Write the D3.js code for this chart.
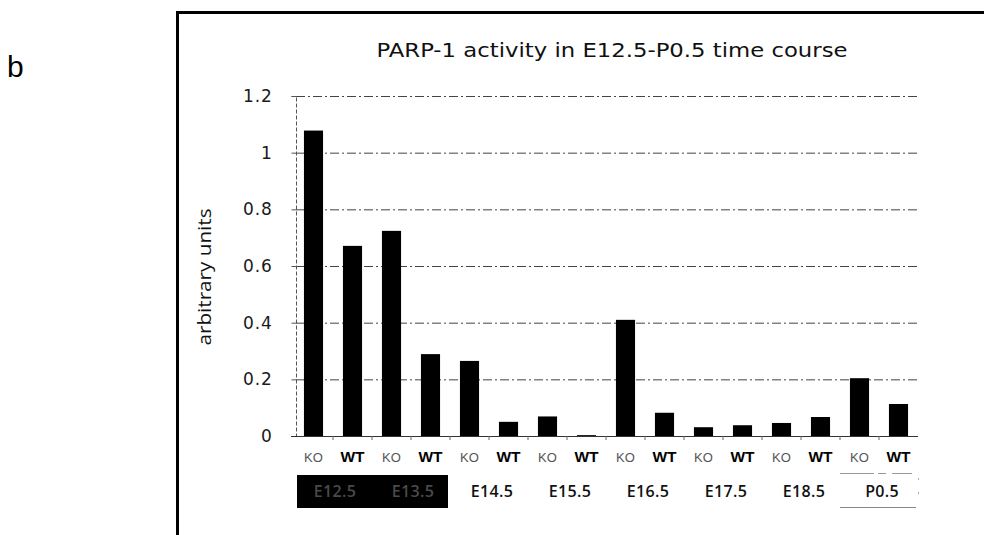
<!DOCTYPE html>
<html>
<head>
<meta charset="utf-8">
<script src="https://cdn.jsdelivr.net/npm/d3@7"></script>
<style>
  html, body { margin: 0; padding: 0; background: #fff; }
  svg { display: block; }
</style>
</head>
<body>
<svg id="chart" width="984" height="535"></svg>
<script>
// ---- data ----
const stages = ["E12.5", "E13.5", "E14.5", "E15.5", "E16.5", "E17.5", "E18.5", "P0.5"];
const genotypes = ["KO", "WT"];
const koValues = [1.078, 0.724, 0.265, 0.069, 0.410, 0.031, 0.046, 0.204];
const wtValues = [0.671, 0.289, 0.050, 0.003, 0.082, 0.038, 0.067, 0.113];
const yTicks = [0, 0.2, 0.4, 0.6, 0.8, 1, 1.2];
const yTickLabels = ["0", "0.2", "0.4", "0.6", "0.8", "1", "1.2"];
const chartTitle = "PARP-1 activity in E12.5-P0.5 time course";
const yTitle = "arbitrary units";
const panelLabel = "b";

// ---- build ----
const bars = [];
stages.forEach((s, i) => {
  bars.push({ stage: s, geno: "KO", key: s + "-KO", value: koValues[i] });
  bars.push({ stage: s, geno: "WT", key: s + "-WT", value: wtValues[i] });
});

const svg = d3.select("#chart");
const W = 984, H = 535;
const plot = { left: 294, right: 918, top: 96, bottom: 436 };
const axisX = 296;

svg.append("rect").attr("width", W).attr("height", H).attr("fill", "#fff");

// frame
const frame = svg.append("g");
frame.append("line").attr("x1", 177.5).attr("x2", 177.5).attr("y1", 11).attr("y2", H)
  .attr("stroke", "#000").attr("stroke-width", 3);
frame.append("line").attr("x1", 176).attr("x2", W).attr("y1", 12.5).attr("y2", 12.5)
  .attr("stroke", "#000").attr("stroke-width", 3);

// panel label
svg.append("text").attr("x", 7).attr("y", 77)
  .attr("font-family", "Liberation Sans, Arial, sans-serif").attr("font-size", 30)
  .attr("fill", "#000").text(panelLabel);

const y = d3.scaleLinear().domain([0, 1.2]).range([plot.bottom, plot.top]);
const x = d3.scaleBand().domain(bars.map(d => d.key)).range([plot.left, plot.right])
  .paddingInner(0.51).paddingOuter(0.255);
const xStage = d3.scaleBand().domain(stages).range([plot.left, plot.right]);

// gridlines
svg.append("g").selectAll("line").data(yTicks.filter(t => t > 0)).join("line")
  .attr("x1", axisX).attr("x2", plot.right)
  .attr("y1", d => y(d) + 0.5).attr("y2", d => y(d) + 0.5)
  .attr("stroke", "#444").attr("stroke-width", 1)
  .attr("stroke-dasharray", "9,3,2,3");

// y axis
const yAxis = d3.axisLeft(y).tickValues(yTicks).tickSize(5).tickPadding(19)
  .tickFormat((d, i) => yTickLabels[i]);
const gy = svg.append("g").attr("transform", `translate(${axisX + 0.5},0)`).call(yAxis);
gy.select(".domain").attr("stroke", "#555").attr("stroke-dasharray", "4,2").attr("d", `M-5,${plot.top + 0.5}H0V${plot.bottom}`);
gy.selectAll(".tick line").attr("stroke", "#555");
gy.selectAll(".tick text").attr("font-family", "DejaVu Sans, sans-serif")
  .attr("font-size", 17).attr("fill", "#1a1a1a").attr("letter-spacing", "0.8px");

// bars
svg.append("g").selectAll("rect").data(bars).join("rect")
  .attr("x", d => x(d.key)).attr("width", x.bandwidth())
  .attr("y", d => y(d.value)).attr("height", d => y(0) - y(d.value))
  .attr("fill", "#000");

// x axis
const xAxis = d3.axisBottom(x).tickSize(0).tickFormat(() => "");
const gx = svg.append("g").attr("transform", `translate(0,${plot.bottom + 0.5})`).call(xAxis);
gx.select(".domain").attr("stroke", "#333").attr("stroke-width", 1.2)
  .attr("d", `M${axisX - 5},0H${plot.right}`);
gx.selectAll(".tick").remove();
// category boundary ticks
svg.append("g").selectAll("line").data(bars.slice(1)).join("line")
  .attr("x1", d => x(d.key) - x.step() * x.paddingInner() / 2)
  .attr("x2", d => x(d.key) - x.step() * x.paddingInner() / 2)
  .attr("y1", plot.bottom).attr("y2", plot.bottom + 4)
  .attr("stroke", "#666").attr("stroke-width", 1);

// genotype labels
svg.append("g").selectAll("text").data(bars).join("text")
  .attr("x", d => x(d.key) + x.bandwidth() / 2)
  .attr("y", 462)
  .attr("text-anchor", "middle")
  .attr("font-family", "Liberation Sans, Arial, sans-serif")
  .attr("font-size", d => d.geno === "KO" ? 13 : 15.5)
  .attr("font-weight", d => d.geno === "KO" ? "normal" : "bold")
  .attr("fill", d => d.geno === "KO" ? "#555" : "#000")
  .text(d => d.geno);

// stage row
const row = svg.append("g");
const firstTwo = stages.slice(0, 2);
row.append("rect")
  .attr("x", xStage(firstTwo[0]) + 3)
  .attr("width", xStage(firstTwo[1]) + xStage.bandwidth() - xStage(firstTwo[0]) - 5)
  .attr("y", 475).attr("height", 33).attr("fill", "#000");
const last = stages[stages.length - 1];
row.append("line").attr("x1", xStage(last) + 0).attr("x2", xStage(last) + 72)
  .attr("y1", 473.5).attr("y2", 473.5).attr("stroke", "#999").attr("stroke-dasharray", "34,4,8,6");
row.append("line").attr("x1", xStage(last) + 0).attr("x2", xStage(last) + 76)
  .attr("y1", 507.5).attr("y2", 507.5).attr("stroke", "#888");
row.append("line").attr("x1", plot.right + 0.5).attr("x2", plot.right + 0.5)
  .attr("y1", 478).attr("y2", 494).attr("stroke", "#aaa").attr("stroke-dasharray", "2,12");
row.selectAll("text").data(stages).join("text")
  .attr("x", d => xStage(d) + xStage.bandwidth() / 2 + (firstTwo.includes(d) ? 2 : 3))
  .attr("y", 497)
  .attr("text-anchor", "middle")
  .attr("font-family", "Open Sans, sans-serif")
  .attr("font-size", 16)
  .attr("font-weight", 600)
  .attr("letter-spacing", "0.3px")
  .attr("fill", d => firstTwo.includes(d) ? "#4a4a4a" : "#111")
  .text(d => d);

// title
svg.append("text").attr("x", 612).attr("y", 57).attr("text-anchor", "middle")
  .attr("font-family", "DejaVu Sans, sans-serif").attr("font-size", 19)
  .attr("fill", "#111")
  .attr("textLength", 471).attr("lengthAdjust", "spacingAndGlyphs")
  .text(chartTitle);

// y title
svg.append("text")
  .attr("transform", `translate(211,277) rotate(-90)`)
  .attr("text-anchor", "middle")
  .attr("font-family", "Open Sans, sans-serif").attr("font-size", 18.5)
  .attr("fill", "#111")
  .attr("textLength", 137).attr("lengthAdjust", "spacingAndGlyphs")
  .text(yTitle);
</script>
</body>
</html>
